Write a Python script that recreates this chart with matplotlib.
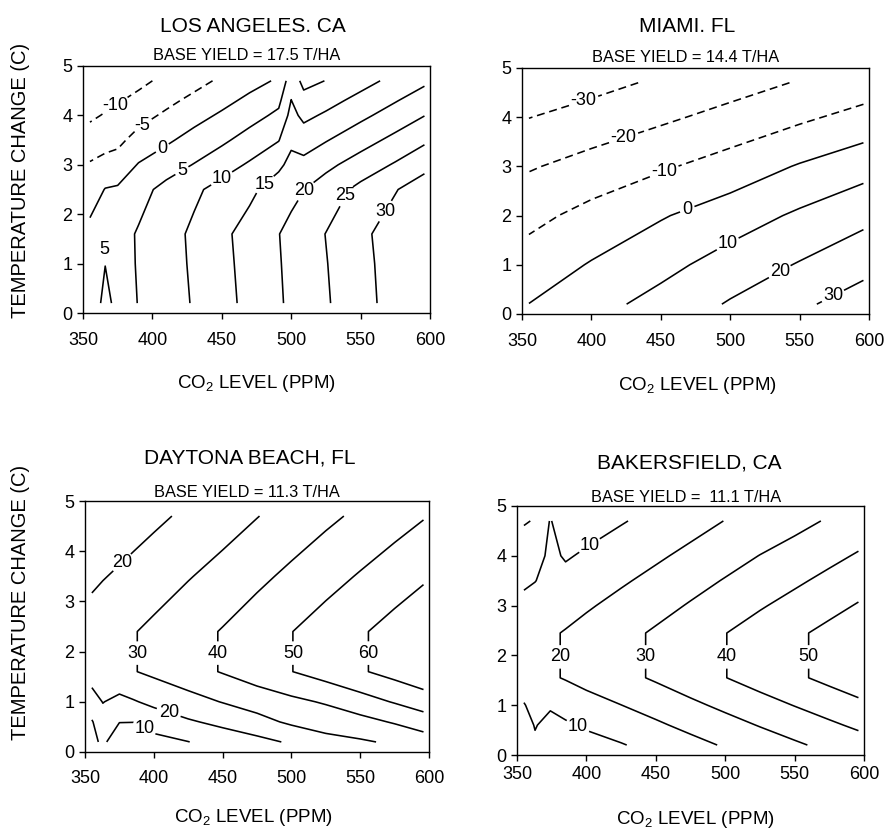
import matplotlib
matplotlib.use("Agg")
import matplotlib.pyplot as plt

plt.rcParams['font.family'] = ['Liberation Sans', 'DejaVu Sans']
plt.rcParams['lines.dashed_pattern'] = [5, 3]
plt.rcParams['axes.linewidth'] = 1.0

co2_ticks = [350, 400, 450, 500, 550, 600]
temp_ticks = [0, 1, 2, 3, 4, 5]

# Los Angeles, CA  (yield change, %)
la_co2 = [355, 366, 375, 390, 410, 430, 450, 470, 491, 500, 509, 525, 550, 575, 596]
la_temp = [0.2, 1.0, 1.6, 2.5, 3.0, 3.5, 4.0, 4.3, 4.7]
la_yield = [
    [1.5, 6.5, 3.5, 5.1, 7.7, 10.4, 13.4, 16.3, 19.5, 20.8, 22.1, 24.5, 28.2, 32.0, 35.1],
    [1.8, 4.9, 3.4, 5.3, 8.0, 10.7, 13.7, 16.6, 19.7, 21.1, 22.4, 24.8, 28.5, 32.2, 35.4],
    [1.5, 2.5, 3.3, 5.4, 8.1, 10.9, 13.9, 16.9, 19.9, 21.3, 22.7, 25.1, 28.8, 32.5, 35.6],
    [-2.6, 0.2, 0.6, 3.4, 6.4, 9.1, 11.7, 13.9, 17.5, 18.7, 19.9, 22.4, 26.3, 29.7, 32.8],
    [-4.6, -3.5, -3.0, 0.3, 2.8, 5.2, 7.9, 10.6, 14.0, 16.4, 16.4, 18.8, 22.2, 25.5, 28.4],
    [-7.6, -6.7, -6.1, -3.3, -0.8, 1.8, 4.1, 6.9, 9.8, 14.0, 12.7, 14.7, 18.0, 21.3, 24.2],
    [-10.9, -9.6, -8.8, -6.7, -4.2, -1.7, 0.7, 3.2, 6.0, 11.5, 8.8, 10.7, 13.9, 17.1, 19.9],
    [-12.9, -11.4, -10.4, -8.7, -6.2, -3.8, -1.4, 1.1, 3.9, 10.1, 6.6, 8.3, 11.5, 14.7, 17.4],
    [-15.5, -13.9, -12.9, -11.2, -8.8, -6.6, -4.2, -1.7, 0.6, 8.0, 3.6, 5.1, 8.2, 11.4, 14.1],
]
la_levels = [-10, -5, 0, 5, 10, 15, 20, 25, 30]

# Miami, FL
mi_co2 = [355, 400, 450, 500, 550, 596]
mi_temp = [0.2, 1.0, 2.0, 3.0, 4.0, 4.7]
mi_yield = [
    [0.1, 6.5, 13.4, 20.9, 28.3, 34.6],
    [-5.5, 0.7, 7.0, 14.2, 20.7, 27.0],
    [-12.8, -6.9, -0.8, 5.0, 11.6, 17.2],
    [-20.9, -16.4, -11.3, -5.9, 0.8, 6.2],
    [-30.2, -26.3, -21.8, -16.9, -11.8, -6.7],
    [-37.6, -33.1, -28.5, -24.1, -19.3, -15.5],
]
mi_levels = [-30, -20, -10, 0, 10, 20, 30]

# Daytona Beach, FL
dt_co2 = [355, 363, 375, 385, 400, 425, 450, 475, 500, 525, 550, 575, 596]
dt_temp = [0.2, 0.6, 1.0, 1.6, 2.4, 3.5, 4.7]
dt_yield = [
    [7.9, 11.5, 5.0, 5.8, 6.7, 9.8, 14.4, 17.1, 21.2, 27.1, 28.8, 31.4, 35.0],
    [9.3, 16.0, 10.2, 10.1, 14.5, 18.9, 22.3, 26.7, 31.7, 33.9, 36.8, 40.9, 45.0],
    [16.1, 20.3, 17.3, 19.2, 22.2, 26.3, 30.4, 34.3, 37.7, 41.0, 45.9, 50.7, 55.0],
    [24.4, 25.8, 27.8, 29.5, 32.0, 36.3, 40.6, 45.2, 49.8, 54.4, 58.9, 63.5, 67.3],
    [24.4, 25.8, 27.8, 29.5, 32.0, 36.3, 40.6, 45.2, 49.8, 54.4, 58.9, 63.5, 67.3],
    [18.1, 19.5, 21.3, 22.8, 25.3, 29.4, 33.4, 37.8, 42.1, 46.5, 50.8, 55.1, 58.7],
    [11.3, 12.5, 14.3, 15.9, 18.0, 21.8, 25.6, 29.7, 33.8, 37.9, 41.9, 46.0, 49.4],
]
dt_levels = [10, 20, 30, 40, 50, 60]

# Bakersfield, CA
bk_co2 = [355, 363, 374, 385, 400, 425, 450, 475, 500, 525, 550, 575, 596]
bk_temp = [0.2, 0.6, 1.0, 1.55, 2.45, 3.0, 3.5, 4.0, 4.7]
bk_yield = [
    [1.5, 8.0, 2.0, 3.7, 6.4, 9.4, 13.1, 17.0, 20.9, 24.8, 28.6, 32.4, 35.6],
    [4.8, 10.7, 6.2, 8.7, 11.3, 14.7, 18.5, 22.5, 26.5, 30.5, 34.4, 38.4, 41.7],
    [9.4, 13.5, 11.5, 13.7, 16.3, 19.9, 23.8, 28.0, 32.1, 36.2, 40.3, 44.3, 47.7],
    [15.8, 17.1, 18.9, 20.6, 23.1, 27.1, 31.2, 35.5, 39.8, 44.1, 48.3, 52.5, 56.1],
    [15.8, 17.1, 18.9, 20.6, 23.1, 27.1, 31.2, 35.5, 39.8, 44.1, 48.3, 52.5, 56.1],
    [12.1, 13.3, 14.9, 16.5, 18.9, 22.8, 26.7, 30.8, 35.0, 39.1, 43.1, 47.2, 50.7],
    [8.7, 9.8, 12.5, 12.8, 15.1, 18.8, 22.6, 26.6, 30.6, 34.6, 38.4, 42.4, 45.8],
    [5.3, 6.3, 12.0, 9.1, 11.3, 14.9, 18.5, 22.3, 26.2, 30.2, 33.7, 37.6, 40.9],
    [-0.8, 0.6, 10.6, 4.0, 6.0, 9.3, 12.8, 16.4, 20.2, 23.6, 27.2, 30.9, 34.1],
]
bk_levels = [0, 10, 20, 30, 40, 50]

W, H = 888, 832
fig = plt.figure(figsize=(W / 100, H / 100), dpi=100)


def rect(l, t, r, b):
    return [l / W, 1 - b / H, (r - l) / W, (b - t) / H]


def ftext(px, py, s, size):
    fig.text(px / W, 1 - py / H, s, ha='center', va='center', fontsize=size)


def panel(box, co2, temp, z, levels, label_pos, xpad):
    ax = fig.add_axes(rect(*box))
    styles = ['dashed' if lv < 0 else 'solid' for lv in levels]
    cs = ax.contour(co2, temp, z, levels=levels, colors='black',
                    linewidths=1.15, linestyles=styles)
    labels = ax.clabel(cs, fmt='%d', fontsize=13, inline=True,
                       inline_spacing=3, manual=label_pos)
    for t in labels:
        t.set_rotation(0)
    ax.set_xlim(350, 600)
    ax.set_ylim(0, 5)
    ax.set_xticks(co2_ticks)
    ax.set_yticks(temp_ticks)
    ax.tick_params(direction='out', length=4, width=1, labelsize=13)
    ax.tick_params(axis='x', pad=xpad)
    ax.tick_params(axis='y', pad=3.5)
    return ax


xlab = 'CO$_\\mathregular{2}$ LEVEL (PPM)'
ylab = 'TEMPERATURE CHANGE (C)'

# top left
ax = panel((83, 66, 430, 313), la_co2, la_temp, la_yield, la_levels,
           [(374.5, 4.14), (393.7, 3.77), (407.4, 3.33), (421.3, 2.88),
            (450, 2.72), (481.4, 2.59), (509, 2.49), (537.8, 2.39),
            (566.6, 2.08)], 10)
ax.text(365, 1.28, '5', ha='center', va='center', fontsize=13)
ftext(253, 26, 'LOS ANGELES. CA', 15)
ftext(247, 56, 'BASE YIELD = 17.5 T/HA', 11.8)
ftext(256, 384, xlab, 13.5)
fig.text(21 / W, 1 - 180 / H, ylab, rotation=90, ha='center', va='center', fontsize=14.5)

# top right
panel((522, 68, 869, 314), mi_co2, mi_temp, mi_yield, mi_levels,
      [(394.9, 4.29), (423.7, 3.54), (452.4, 2.90), (469.2, 2.12),
       (499.2, 1.38), (536.4, 0.83), (574.8, 0.33)], 10)
ftext(687, 26, 'MIAMI. FL', 15)
ftext(686, 58, 'BASE YIELD = 14.4 T/HA', 11.8)
ftext(697, 386, xlab, 13.5)

# bottom left
panel((85, 501, 429, 752), dt_co2, dt_temp, dt_yield, dt_levels,
      [(377.6, 3.76), (388, 1.97), (447, 1.97), (501, 1.97), (556, 1.97),
       (410.6, 0.77), (392.4, 0.44)], 9)
ftext(250, 458, 'DAYTONA BEACH, FL', 15)
ftext(247, 493, 'BASE YIELD = 11.3 T/HA', 11.8)
ftext(253, 817, xlab, 13.5)
fig.text(21 / W, 1 - 602 / H, ylab, rotation=90, ha='center', va='center', fontsize=14.5)

# bottom right
panel((517, 506, 864, 755), bk_co2, bk_temp, bk_yield, bk_levels,
      [(401.9, 4.22), (393, 0.54), (381, 1.97), (443, 1.97), (501, 1.97),
       (560, 1.97)], 4)
ftext(689, 463, 'BAKERSFIELD, CA', 15)
ftext(686, 497, 'BASE YIELD =  11.1 T/HA', 11.8)
ftext(695, 820, xlab, 13.5)

fig.savefig('out.png', dpi=100)
